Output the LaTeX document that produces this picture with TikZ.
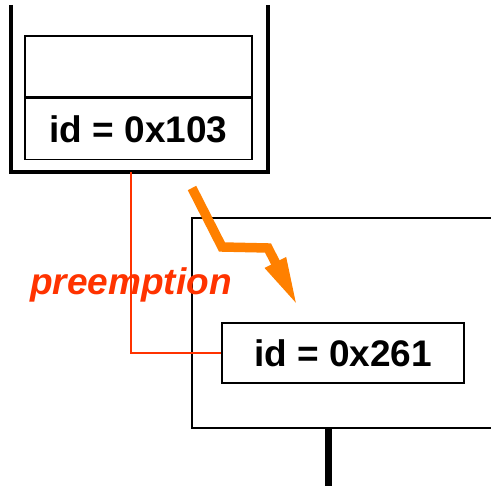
\documentclass[tikz,border=0pt]{standalone}
\usepackage{fontspec}
\setmainfont{Liberation Sans}
\usepackage{tikz}
\usetikzlibrary{arrows.meta, positioning}

\definecolor{preemptred}{RGB}{255,51,0}
\definecolor{boltorange}{RGB}{255,128,0}

\tikzset{
  slot/.style={draw, line width=1.5pt, inner sep=0pt,
               minimum width=227pt, minimum height=61pt,
               font=\fontsize{37}{40}\selectfont\bfseries},
  queue/.style={line width=4.5pt, line join=miter},
  bolt/.style={boltorange, line width=9.5pt, line join=miter,
               -{Triangle[length=50pt, width=21pt]}},
}

\begin{document}
\begin{tikzpicture}[x=1pt, y=-1pt]
    \useasboundingbox (0,0) rectangle (491,486);
    \clip (0,0) rectangle (491,486);

    % queue holding the running task
    \draw[queue] (11,5) -- (11,172) -- (268,172) -- (268,5);
    \node[slot] (upper) at (138.5,66.5) {};
    \node[slot, below=0pt of upper] (taskA) {id = 0x103};

    % frame of the next task, open to the right
    \node[draw, line width=1.5pt, minimum width=340pt, minimum height=210pt,
          inner sep=0pt] (frame) at (362,323) {};
    \node[slot, minimum width=242pt, minimum height=60pt] (taskB)
          at (343,353) {id = 0x261};
    \coordinate (stem) at (328,428);
    \draw[line width=7pt] (stem) -- (328,486);

    % preemption link
    \coordinate (qout) at (131,172);
    \draw[preemptred, line width=1.5pt] (qout) |- (taskB.west);
    \node[preemptred, anchor=base, font=\fontsize{37}{40}\selectfont\bfseries\itshape]
          (label) at (131,295) {preemption};

    % lightning arrow
    \coordinate (b1) at (192,188);
    \coordinate (b2) at (222,247);
    \coordinate (b3) at (268,248);
    \coordinate (b4) at (298,307);
    \draw[bolt] (b1) -- (b2) -- (b3) -- (b4);
\end{tikzpicture}
\end{document}
